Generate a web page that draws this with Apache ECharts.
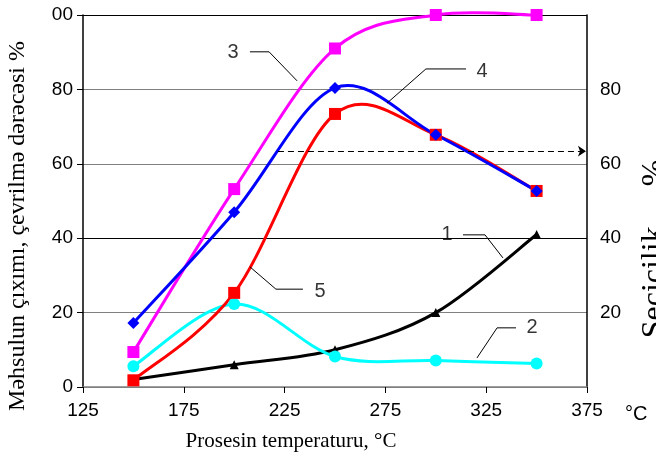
<!DOCTYPE html>
<html>
<head>
<meta charset="utf-8">
<script src="https://cdn.jsdelivr.net/npm/echarts@6/dist/echarts.min.js"></script>
<style>
  html, body { margin: 0; padding: 0; background: #fff; }
  #chart { width: 656px; height: 461px; }
</style>
</head>
<body>
<div id="chart"></div>
<script>
// temperatures, degC
var temps = [150, 200, 250, 300, 350]
var xTicks = [125, 175, 225, 275, 325, 375]

// curves 1..5
var curve1 = [2, 6, 10, 20, 41]
var curve2 = [5.6, 22.3, 8.2, 7.1, 6.3]
var curve3 = [9.4, 53.2, 91, 100, 100]
var curve4 = [17.2, 47, 80.4, 67.8, 52.7]
var curve5 = [1.8, 25.3, 73.4, 67.8, 52.7]

// curve numbers and their leader lines (data units)
var tagNames = ['1', '2', '3', '4', '5']
var tagPos = [[305.6, 40.9], [347.7, 15.9], [199.4, 89.8], [322.9, 84.7], [242.6, 25.8]]
var leaders = [
  [[313.5, 40.9], [324.4, 40.9], [333.3, 34.7]],
  [[339.8, 15.9], [330.4, 15.9], [320.4, 7.8]],
  [[207.8, 90.1], [217.3, 90.1], [231.2, 82.3]],
  [[315.0, 85.5], [295.1, 85.5], [275.8, 76.3]],
  [[234.1, 26.3], [220.7, 26.3], [207.8, 32.3]]
]
var arrow = [[221.7, 63.4], [374.5, 63.4]]

function pts (ys) {
  return temps.map(function (t, i) { return [t, ys[i]] })
}

// excel-like smoothed line (catmull-rom) drawn through the axis scales
function smoothLine (ys, color) {
  return {
    type: 'custom',
    clip: false,
    silent: true,
    data: pts(ys),
    z: 2,
    renderItem: function (params, api) {
      if (params.dataIndex !== 0) return
      var p = temps.map(function (t, i) { return api.coord([t, ys[i]]) })
      var n = p.length
      var segs = []
      for (var i = 0; i < n - 1; i++) {
        var a = p[Math.max(i - 1, 0)]
        var b = p[i]
        var c = p[i + 1]
        var d = p[Math.min(i + 2, n - 1)]
        segs.push({
          type: 'bezierCurve',
          shape: {
            x1: b[0], y1: b[1], x2: c[0], y2: c[1],
            cpx1: b[0] + (c[0] - a[0]) / 6, cpy1: b[1] + (c[1] - a[1]) / 6,
            cpx2: c[0] - (d[0] - b[0]) / 6, cpy2: c[1] - (d[1] - b[1]) / 6
          },
          style: { stroke: color, lineWidth: 3, fill: null, lineCap: 'round' }
        })
      }
      return { type: 'group', children: segs }
    }
  }
}

function markers (name, ys, color, symbol, size) {
  return {
    name: name,
    type: 'line',
    data: pts(ys),
    symbol: symbol,
    symbolSize: size,
    showAllSymbol: true,
    lineStyle: { width: 0, opacity: 0 },
    itemStyle: { color: color },
    z: 3
  }
}

var chartDom = document.getElementById('chart')
var myChart = echarts.init(chartDom)
var option

var tickFont = { fontFamily: 'Liberation Sans', fontSize: 19, color: '#000' }

option = {
  animation: false,
  grid: { left: 83, right: 69, top: 15, bottom: 74 },
  xAxis: {
    type: 'value',
    min: 125,
    max: 375,
    name: '°C',
    nameLocation: 'end',
    nameGap: 38,
    nameTextStyle: { fontFamily: 'Liberation Sans', fontSize: 20, color: '#000', verticalAlign: 'top', padding: [17, 0, 0, 0] },
    axisLine: { lineStyle: { color: '#808080', width: 1.5 } },
    axisTick: { show: true, length: 6, lineStyle: { color: '#000' }, customValues: xTicks },
    axisLabel: Object.assign({ margin: 14, customValues: xTicks }, tickFont),
    splitLine: { show: false }
  },
  yAxis: [{
    type: 'value',
    min: 0,
    max: 100,
    interval: 20,
    axisLine: { show: true, lineStyle: { color: '#000', width: 1.5 } },
    axisTick: { show: true, length: 6, lineStyle: { color: '#000' } },
    axisLabel: Object.assign({
      margin: 10,
      formatter: function (v) { return v === 100 ? '00' : v }
    }, tickFont),
    splitLine: {
      show: true,
      lineStyle: { color: ['#808080', '#808080', '#000', '#808080', '#808080', '#000'], width: 1.2 }
    }
  }, {
    type: 'value',
    position: 'right',
    min: 0,
    max: 100,
    interval: 20,
    axisLine: { show: true, lineStyle: { color: '#000', width: 1.5 } },
    axisTick: { show: false },
    axisLabel: Object.assign({
      margin: 13,
      formatter: function (v) { return (v === 0 || v === 100) ? '' : v }
    }, tickFont),
    splitLine: { show: false }
  }],
  graphic: [{
    type: 'text',
    x: 18,
    y: 226,
    rotation: Math.PI / 2,
    style: {
      text: 'Məhsulun çıxımı, çevrilmə dərəcəsi %',
      fontFamily: 'Liberation Serif',
      fontSize: 24,
      fill: '#000',
      align: 'center',
      verticalAlign: 'middle'
    }
  }, {
    type: 'text',
    x: 291,
    y: 441,
    style: {
      text: 'Prosesin temperaturu, °C',
      fontFamily: 'Liberation Serif',
      fontSize: 21,
      fill: '#000',
      align: 'center',
      verticalAlign: 'middle'
    }
  }, {
    type: 'text',
    x: 639,
    y: 249,
    rotation: Math.PI / 2,
    style: {
      text: 'Seçicilik,    %',
      fontFamily: 'Liberation Serif',
      fontSize: 32,
      fill: '#000',
      align: 'center',
      verticalAlign: 'top'
    }
  }],
  series: [
    smoothLine(curve1, '#000000'),
    smoothLine(curve2, '#00ffff'),
    smoothLine(curve3, '#ff00ff'),
    smoothLine(curve5, '#ff0000'),
    smoothLine(curve4, '#0000ff'),
    markers('1', curve1, '#000000', 'triangle', 9),
    markers('2', curve2, '#00ffff', 'circle', 12),
    markers('3', curve3, '#ff00ff', 'rect', 12),
    markers('5', curve5, '#ff0000', 'rect', 12),
    markers('4', curve4, '#0000ff', 'diamond', 12),
    {
      type: 'lines',
      coordinateSystem: 'cartesian2d',
      polyline: true,
      silent: true,
      lineStyle: { color: '#000', width: 1, opacity: 1 },
      data: leaders.map(function (c) { return { coords: c } }),
      z: 4
    },
    {
      type: 'lines',
      coordinateSystem: 'cartesian2d',
      silent: true,
      symbol: ['none', 'arrow'],
      symbolSize: 8,
      lineStyle: { color: '#000', width: 1.2, type: [6, 4], opacity: 1 },
      data: [{ coords: arrow }],
      z: 4
    },
    {
      type: 'scatter',
      symbolSize: 0,
      silent: true,
      data: tagPos.map(function (p, i) { return { value: p, name: tagNames[i] } }),
      label: {
        show: true,
        position: 'inside',
        formatter: '{b}',
        fontFamily: 'Liberation Sans',
        fontSize: 20,
        color: '#000'
      },
      z: 5
    }
  ]
}

myChart.setOption(option)
window.addEventListener('resize', () => myChart.resize())
</script>
</body>
</html>
